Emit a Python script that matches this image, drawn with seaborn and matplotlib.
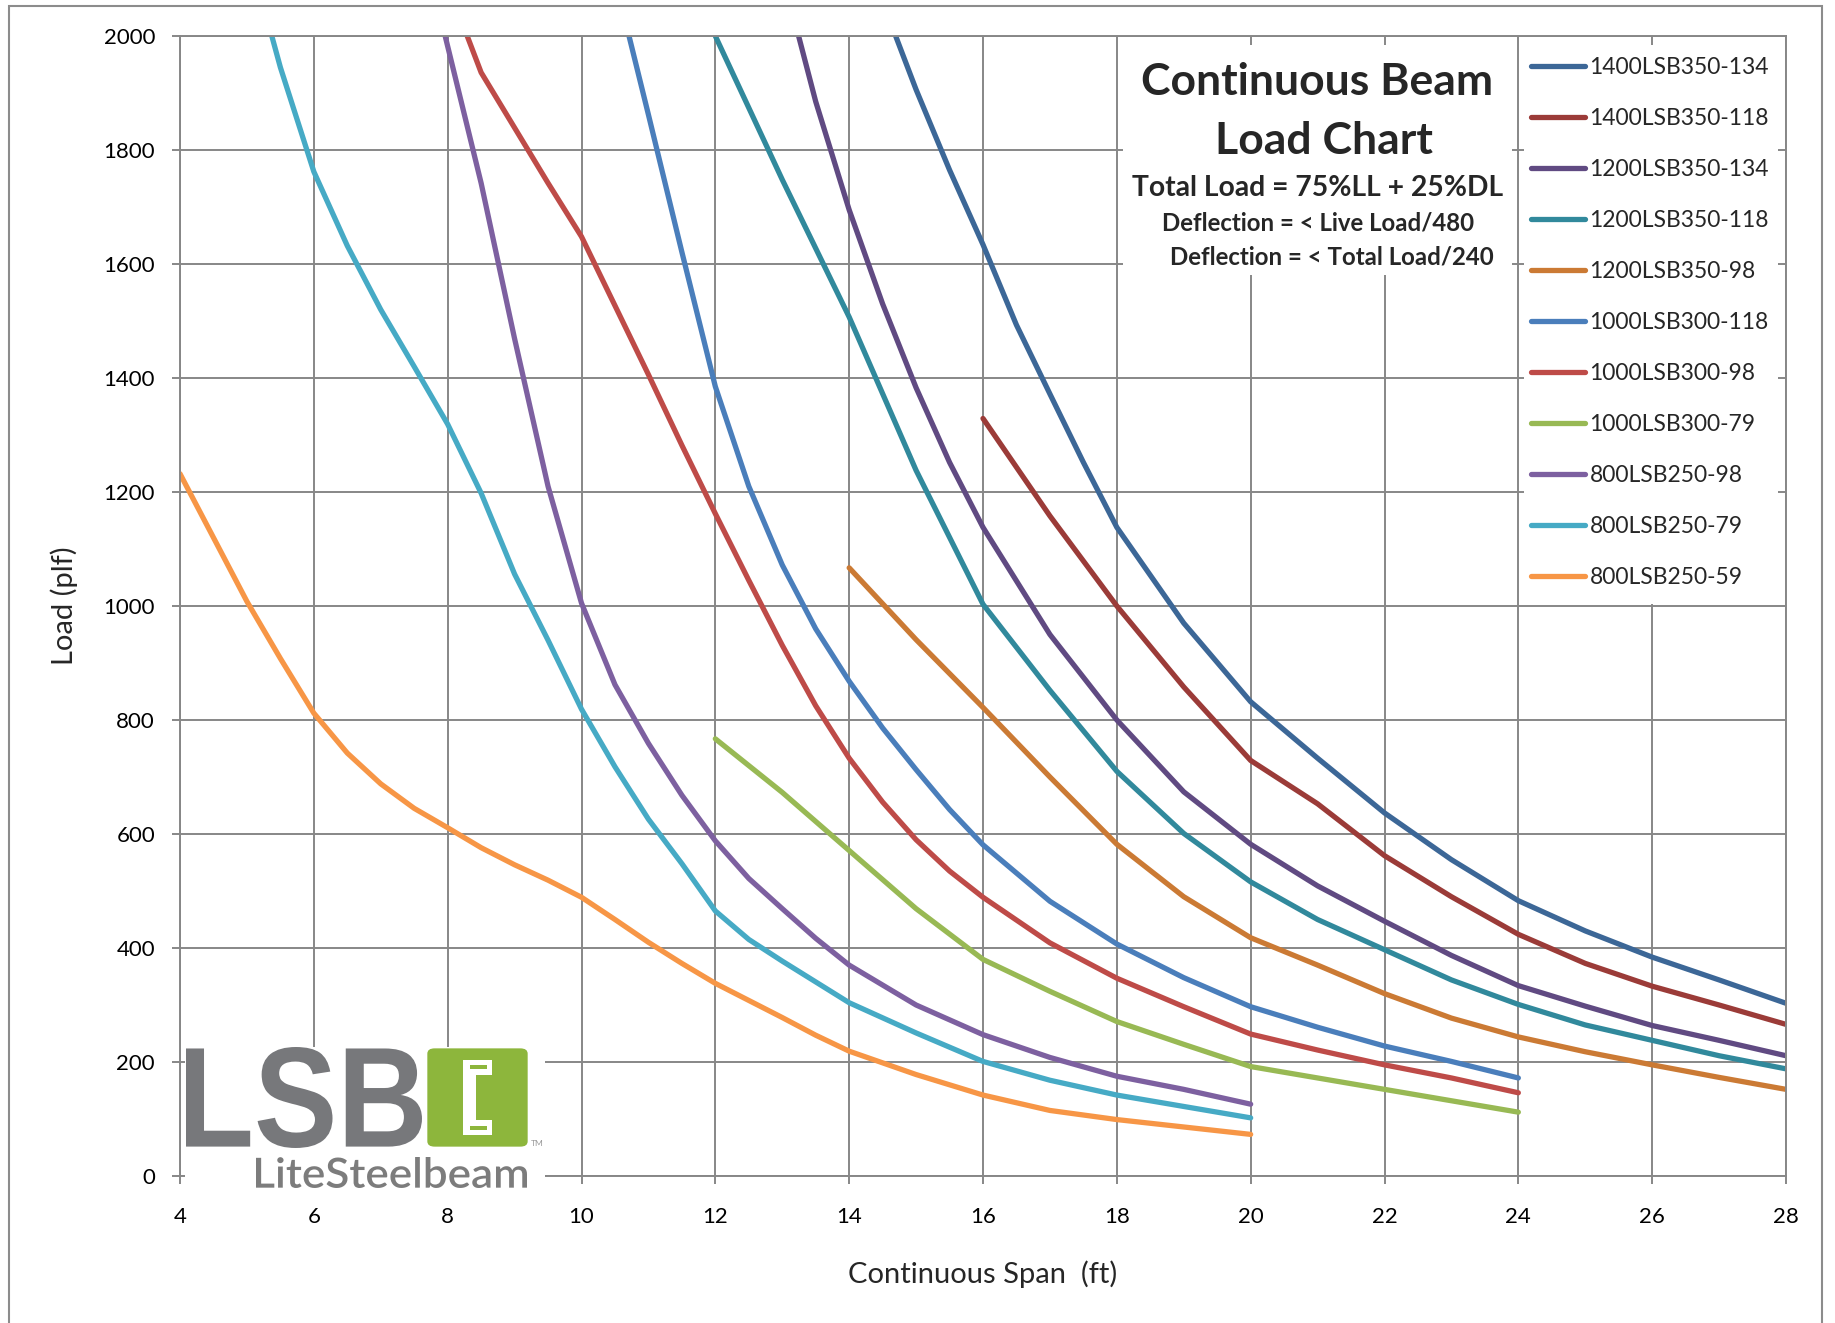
import matplotlib
matplotlib.use("Agg")
import matplotlib.pyplot as plt
import seaborn as sns
import numpy as np
import pandas as pd
from matplotlib.patches import Rectangle, FancyBboxPatch, PathPatch
from matplotlib.textpath import TextPath
from matplotlib.path import Path
from matplotlib.font_manager import FontProperties

# beam names, legend order
beams = ['1400LSB350-134', '1400LSB350-118', '1200LSB350-134', '1200LSB350-118',
         '1200LSB350-98', '1000LSB300-118', '1000LSB300-98', '1000LSB300-79',
         '800LSB250-98', '800LSB250-79', '800LSB250-59']
colors = ['#3c6797', '#9b3b38', '#604a82', '#31899c', '#cb7a34', '#4a7ebb',
          '#be4b48', '#98b954', '#7d60a0', '#46aac5', '#f79646']

# span (ft) and load (plf)
span_1400_134 = [14, 14.5, 15, 15.5, 16, 16.5, 17, 17.5, 18, 19, 20, 21, 22, 23, 24, 25, 26, 27, 28]
load_1400_134 = [2230, 2060, 1906, 1765, 1634, 1493, 1372, 1252, 1138, 970, 832, 733, 637, 555, 483, 430, 384, 344, 303]
span_1400_118 = [16, 17, 18, 19, 20, 21, 22, 23, 24, 25, 26, 27, 28]
load_1400_118 = [1329, 1158, 1000, 858, 729, 653, 562, 490, 424, 373, 333, 300, 266]
span_1200_134 = [13, 13.5, 14, 14.5, 15, 15.5, 16, 17, 18, 19, 20, 21, 22, 23, 24, 25, 26, 27, 28]
load_1200_134 = [2110, 1885, 1695, 1530, 1383, 1252, 1138, 950, 800, 674, 582, 509, 447, 387, 334, 298, 264, 238, 211]
span_1200_118 = [12, 13, 14, 15, 16, 17, 18, 19, 20, 21, 22, 23, 24, 25, 26, 27, 28]
load_1200_118 = [2000, 1748, 1507, 1238, 1003, 852, 710, 601, 516, 450, 397, 344, 301, 265, 238, 211, 188]
span_1200_98 = [14, 15, 16, 17, 18, 19, 20, 21, 22, 23, 24, 25, 26, 27, 28]
load_1200_98 = [1067, 941, 822, 700, 582, 490, 418, 370, 320, 277, 244, 218, 195, 173, 152]
span_1000_118 = [10, 10.5, 11, 11.5, 12, 12.5, 13, 13.5, 14, 14.5, 15, 15.5, 16, 17, 18, 19, 20, 21, 22, 23, 24]
load_1000_118 = [2340, 2100, 1862, 1621, 1385, 1210, 1072, 960, 868, 786, 713, 643, 581, 482, 407, 348, 297, 261, 228, 201, 172]
span_1000_98 = [8, 8.5, 9, 9.5, 10, 10.5, 11, 11.5, 12, 12.5, 13, 13.5, 14, 14.5, 15, 15.5, 16,
                17, 18, 19, 20, 21, 22, 23, 24]
load_1000_98 = [2090, 1936, 1839, 1742, 1648, 1527, 1406, 1282, 1162, 1045, 931, 825, 733, 656, 590, 535, 489,
                409, 347, 297, 249, 221, 195, 172, 146]
span_1000_79 = [12, 13, 14, 15, 16, 17, 18, 19, 20, 21, 22, 23, 24]
load_1000_79 = [767, 673, 571, 469, 380, 324, 271, 231, 192, 172, 152, 132, 112]
span_800_98 = [7.9, 8.5, 9, 9.5, 10, 10.5, 11, 11.5, 12, 12.5, 13, 13.5, 14, 15, 16, 17, 18, 19, 20]
load_800_98 = [2030, 1742, 1469, 1210, 1005, 862, 759, 668, 588, 522, 469, 417, 370, 300, 248, 208, 175, 152, 126]
span_800_79 = [5, 5.5, 6, 6.5, 7, 7.5, 8, 8.5, 9, 9.5, 10, 10.5, 11, 11.5, 12, 12.5, 13,
               14, 15, 16, 17, 18, 19, 20]
load_800_79 = [2160, 1945, 1762, 1632, 1520, 1420, 1319, 1198, 1056, 940, 819, 718, 626, 548, 465, 415, 377,
               304, 251, 201, 168, 142, 122, 102]
span_800_59 = [4, 5, 5.5, 6, 6.5, 7, 7.5, 8, 8.5, 9, 9.5, 10, 10.5, 11, 11.5, 12, 12.5, 13, 13.5,
               14, 15, 16, 17, 18, 19, 20]
load_800_59 = [1232, 1008, 908, 812, 742, 688, 645, 611, 576, 546, 519, 489, 450, 410, 373, 338, 308, 278, 247,
               219, 178, 142, 115, 99, 86, 73]

spans = [span_1400_134, span_1400_118, span_1200_134, span_1200_118, span_1200_98,
         span_1000_118, span_1000_98, span_1000_79, span_800_98, span_800_79, span_800_59]
loads = [load_1400_134, load_1400_118, load_1200_134, load_1200_118, load_1200_98,
         load_1000_118, load_1000_98, load_1000_79, load_800_98, load_800_79, load_800_59]

x_ticks = list(range(4, 29, 2))
y_ticks = list(range(0, 2001, 200))

df = pd.concat([pd.DataFrame({'span': s, 'load': l, 'beam': b})
                for b, s, l in zip(beams, spans, loads)], ignore_index=True)

W, H = 1835, 1323
GRID = '#878787'
LW = 3.8

sns.set_theme(style='white')
plt.rcParams['font.family'] = ['Lato', 'DejaVu Sans']

fig = plt.figure(figsize=(W / 100, H / 100), dpi=100)
ax = fig.add_axes([180 / W, 1 - 1176 / H, (1786 - 180) / W, (1176 - 36) / H])


def px(x, y):
    # pixel coords (origin top-left) -> figure fraction
    return x / W, 1 - y / H


sns.lineplot(data=df, x='span', y='load', hue='beam', hue_order=beams,
             palette=colors, estimator=None, lw=LW, solid_capstyle='round',
             solid_joinstyle='round', ax=ax, zorder=3)

ax.set_xlim(4, 28)
ax.set_ylim(0, 2000)
ax.set_xticks(x_ticks)
ax.set_yticks(y_ticks)
ax.grid(True, color=GRID, lw=1.4, zorder=0)
ax.set_axisbelow(True)
for sp in ax.spines.values():
    sp.set_color(GRID)
    sp.set_linewidth(1.4)
    sp.set_visible(True)
    sp.set_zorder(8)
ax.tick_params(axis='both', which='major', direction='out', length=6, width=1.4,
               color=GRID, labelsize=16, labelcolor='black', bottom=True, left=True)
ax.tick_params(axis='x', pad=16)
ax.tick_params(axis='y', pad=12)
ax.set_xlabel('')
ax.set_ylabel('')
fig.text(*px(64, 606), 'Load (plf)', rotation=90, ha='center', va='center', fontsize=21)
fig.text(*px(983, 1274), 'Continuous Span  (ft)', ha='center', va='center', fontsize=21)

# white boxes behind title and legend
for (x0, y0, x1, y1) in [(1123, 45, 1512, 275), (1524, 45, 1778, 604)]:
    ax.add_patch(Rectangle(px(x0, y1), (x1 - x0) / W, (y1 - y0) / H,
                           transform=fig.transFigure, facecolor='white',
                           edgecolor='none', zorder=4, clip_on=False))

handles, labels = ax.get_legend_handles_labels()
leg = ax.legend(handles, labels, loc='upper left', bbox_to_anchor=px(1531, 57),
                bbox_transform=fig.transFigure, frameon=False, fontsize=16.5,
                borderpad=0, borderaxespad=0, labelspacing=1.31,
                handlelength=2.35, handletextpad=0.2)
leg.set_zorder(6)
for h in leg.legend_handles:
    h.set_linewidth(LW)

# chart title block
fig.text(*px(1317, 82), 'Continuous Beam', ha='center', va='center', fontsize=32, fontweight='bold')
fig.text(*px(1324, 141), 'Load Chart', ha='center', va='center', fontsize=32, fontweight='bold')
fig.text(*px(1318, 188), 'Total Load = 75%LL + 25%DL', ha='center', va='center', fontsize=20.3, fontweight='bold')
fig.text(*px(1318, 223), 'Deflection = < Live Load/480', ha='center', va='center', fontsize=17.3, fontweight='bold')
fig.text(*px(1332, 257), 'Deflection = < Total Load/240', ha='center', va='center', fontsize=17.3, fontweight='bold')


def fit_text(s, x0, y0, x1, y1, color, family, weight):
    # text drawn as a path stretched into a pixel box
    tp = TextPath((0, 0), s, size=100, prop=FontProperties(family=family, weight=weight))
    ext = tp.get_extents()
    v = tp.vertices.copy()
    vx = x0 + (v[:, 0] - ext.x0) / ext.width * (x1 - x0)
    vy = y1 - (v[:, 1] - ext.y0) / ext.height * (y1 - y0)
    verts = np.column_stack([vx / W, 1 - vy / H])
    fig.add_artist(PathPatch(Path(verts, tp.codes), transform=fig.transFigure,
                             facecolor=color, edgecolor='none', zorder=12))


def fig_rect(x0, y0, x1, y1, color, z=11):
    fig.add_artist(Rectangle(px(x0, y1), (x1 - x0) / W, (y1 - y0) / H,
                             transform=fig.transFigure, facecolor=color,
                             edgecolor='none', zorder=z))


# LSB logo
LOGO_GREY = '#77787b'
LOGO_GREEN = '#8db63c'
fig_rect(185, 1047, 545, 1192, 'white', z=10)
fit_text('LSB', 186, 1047, 422, 1148, LOGO_GREY, 'Liberation Sans', 'bold')
fig.add_artist(FancyBboxPatch(px(431, 1144), (524 - 431) / W, (1144 - 1051) / H,
                              boxstyle='round,pad=0.002,rounding_size=0.004',
                              transform=fig.transFigure, facecolor=LOGO_GREEN,
                              edgecolor='none', zorder=11))
fig_rect(463, 1060, 476, 1135, 'white', z=12)
fig_rect(463, 1060, 492, 1075, 'white', z=12)
fig_rect(463, 1120, 492, 1135, 'white', z=12)
fig_rect(470, 1065, 487, 1069, LOGO_GREEN, z=13)
fig_rect(470, 1126, 487, 1130, LOGO_GREEN, z=13)
fig.text(*px(537, 1144), 'TM', ha='center', va='center', fontsize=6, color='#999999', zorder=12)
fit_text('LiteSteelbeam', 256, 1157, 527, 1188, '#7c7c7c', 'Lato', 'semibold')

# outer chart border
fig.add_artist(Rectangle(px(9, 1340), (1822 - 9) / W, (1340 - 6) / H,
                         transform=fig.transFigure, facecolor='none',
                         edgecolor='#8c8c8c', lw=1.5, zorder=1))

fig.savefig('out.png', dpi=100)
